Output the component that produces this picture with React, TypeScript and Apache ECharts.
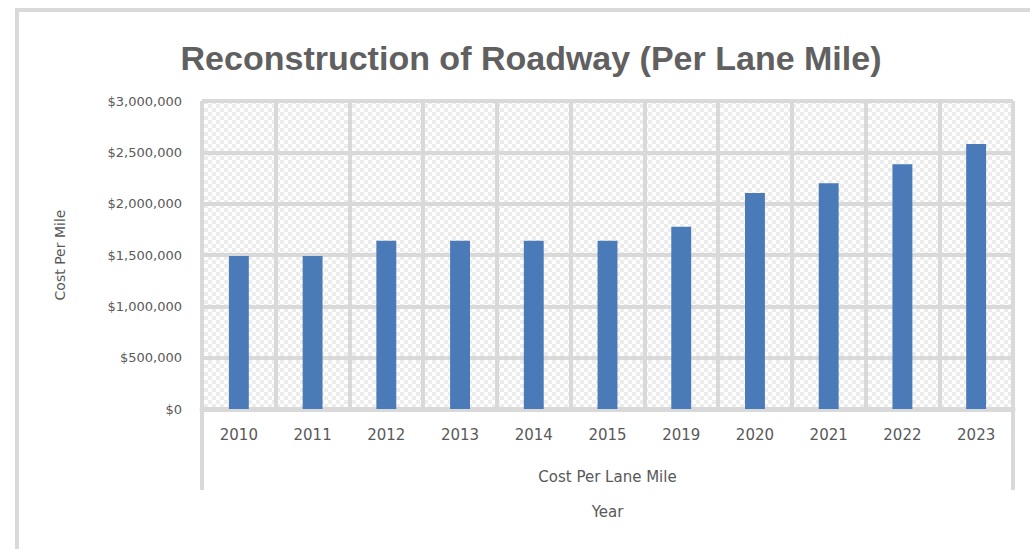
import React, { useEffect, useRef } from "react";
import * as echarts from "echarts";

const years = ["2010", "2011", "2012", "2013", "2014", "2015", "2019", "2020", "2021", "2022", "2023"];
const costPerLaneMile = [1490000, 1490000, 1640000, 1640000, 1640000, 1640000, 1775000, 2105000, 2200000, 2385000, 2580000];
const yTicks = { min: 0, max: 3000000, interval: 500000 };
const titleText = "Reconstruction of Roadway (Per Lane Mile)";
const seriesName = "Cost Per Lane Mile";
const yAxisTitle = "Cost Per Mile";
const xAxisTitle = "Year";

function makePattern(): string | null {
  try {
    const c = document.createElement("canvas");
    c.width = 8;
    c.height = 8;
    const ctx = c.getContext("2d");
    if (!ctx) return null;
    ctx.fillStyle = "#ffffff";
    ctx.fillRect(0, 0, 8, 8);
    ctx.fillStyle = "#ececec";
    ctx.fillRect(0, 0, 4, 4);
    ctx.fillRect(4, 4, 4, 4);
    return c.toDataURL();
  } catch (e) {
    return null;
  }
}

export default function App() {
  const ref = useRef<HTMLDivElement>(null);
  useEffect(() => {
    if (!ref.current) return;
    const chart = echarts.init(ref.current, undefined, { renderer: "svg" });
    const pat = makePattern();
    const textColor = "#595959";
    const gridColor = "#d9d9d9";
    const axisFont = "DejaVu Sans";
    const gridLeft = 202;
    const gridRight = 17;
    const gridTop = 101;
    const gridBottom = 140;
    const W = 1030;
    const H = 549;
    chart.setOption({
      animation: false,
      backgroundColor: "#ffffff",
      title: {
        text: titleText,
        left: 526,
        top: 36,
        textAlign: "center",
        textStyle: {
          fontFamily: "Liberation Sans",
          fontSize: 34,
          fontWeight: "bold",
          color: "#606060",
        },
      },
      grid: {
        left: gridLeft,
        right: gridRight,
        top: gridTop,
        bottom: gridBottom,
        show: true,
        borderWidth: 0,
        backgroundColor: pat ? { image: pat, repeat: "repeat" } : "#f4f4f4",
      },
      xAxis: [
        {
          type: "category",
          data: years,
          boundaryGap: true,
          name: seriesName,
          nameLocation: "middle",
          nameGap: 60,
          nameTextStyle: { color: textColor, fontSize: 15, fontFamily: axisFont },
          axisLine: { show: true, lineStyle: { color: gridColor, width: 5 } },
          axisTick: { show: false },
          axisLabel: { color: textColor, fontSize: 15, margin: 18, fontFamily: axisFont },
          splitLine: { show: true, lineStyle: { color: gridColor, width: 4 } },
        },
        {
          type: "category",
          data: years,
          position: "bottom",
          name: xAxisTitle,
          nameLocation: "middle",
          nameGap: 95,
          nameTextStyle: { color: textColor, fontSize: 15, fontFamily: axisFont },
          axisLine: { show: false },
          axisTick: { show: false },
          axisLabel: { show: false },
          splitLine: { show: false },
        },
      ],
      yAxis: {
        type: "value",
        min: yTicks.min,
        max: yTicks.max,
        interval: yTicks.interval,
        name: yAxisTitle,
        nameLocation: "middle",
        nameGap: 135,
        nameTextStyle: { color: textColor, fontSize: 14, fontFamily: axisFont },
        axisLine: { show: false },
        axisTick: { show: false },
        axisLabel: {
          color: textColor,
          fontSize: 13,
          margin: 20,
          fontFamily: axisFont,
          formatter: (v: number) => "$" + v.toLocaleString("en-US"),
        },
        splitLine: { show: true, lineStyle: { color: gridColor, width: 4 } },
      },
      series: [
        {
          name: seriesName,
          type: "bar",
          data: costPerLaneMile,
          barWidth: "27%",
          itemStyle: { color: "#4a7ab7" },
        },
      ],
      graphic: [
        {
          type: "rect",
          shape: { x: 17, y: 10, width: W + 100, height: H + 100 },
          style: { fill: "none", stroke: gridColor, lineWidth: 4 },
          silent: true,
          z: 0,
        },
        {
          type: "line",
          shape: { x1: gridLeft, y1: H - gridBottom, x2: gridLeft, y2: 490 },
          style: { stroke: gridColor, lineWidth: 4 },
          silent: true,
        },
        {
          type: "line",
          shape: { x1: W - gridRight, y1: H - gridBottom, x2: W - gridRight, y2: 490 },
          style: { stroke: gridColor, lineWidth: 4 },
          silent: true,
        },
      ],
    });
    return () => chart.dispose();
  }, []);
  return (
    <div
      ref={ref}
      style={{ position: "fixed", left: 0, top: 0, width: 1030, height: 549 }}
    />
  );
}
